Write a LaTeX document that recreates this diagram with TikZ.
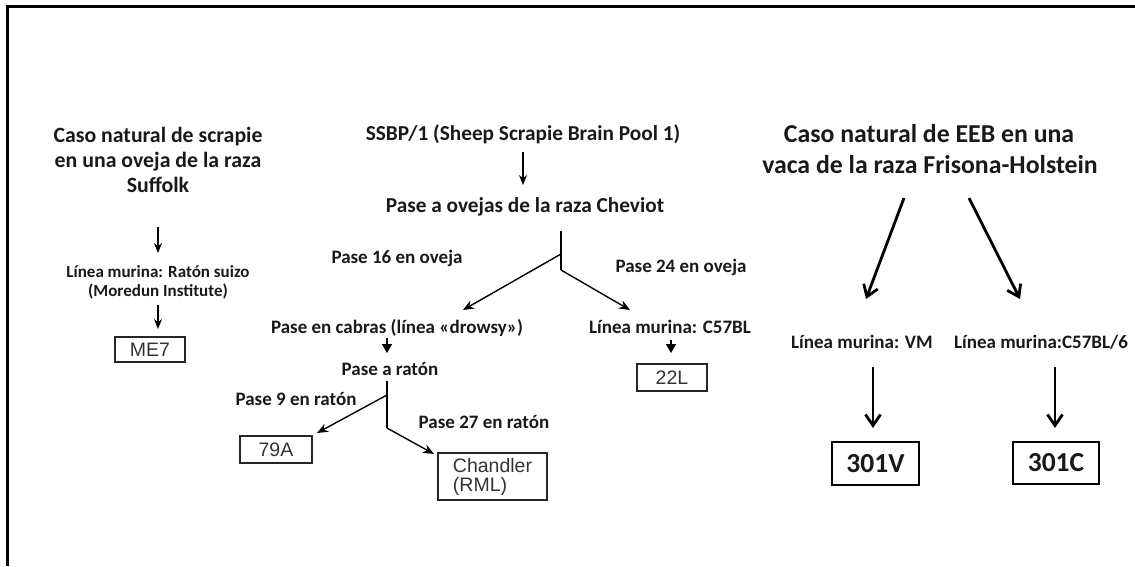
\documentclass[tikz,border=0pt]{standalone}
\usepackage{fontspec}
\setmainfont{Carlito}
\newfontfamily\arialf{Liberation Sans}
\usetikzlibrary{arrows.meta}
\begin{document}
\begin{tikzpicture}[x=1pt,y=-1pt,
  txt/.style={inner sep=0pt,anchor=base,text=black!90},
  big/.style={txt,font=\bfseries\fontsize{21.3}{24}\selectfont},
  huge/.style={txt,font=\bfseries\fontsize{25.8}{30}\selectfont},
  mid/.style={txt,font=\bfseries\fontsize{19}{23}\selectfont},
  small/.style={txt,font=\bfseries\fontsize{17}{20}\selectfont},
  abox/.style={draw=black!85,line width=1.4pt,inner sep=0pt,text=black!80,
    font=\arialf\fontsize{19.5}{21}\selectfont},
  cbox/.style={draw=black,line width=2pt,inner sep=0pt,text=black!90,
    font=\bfseries\fontsize{27.5}{30}\selectfont},
  thinarr/.style={line width=1.6pt,-{Stealth[length=10pt,width=8pt]}},
  line/.style={line width=1.4pt},
  brarr/.style={line width=1.4pt,-{Stealth[length=11pt,width=9pt]}},
  tri/.style={line width=1.4pt,-{Triangle[length=9pt,width=10pt]}},
  fatarr/.style={line width=2.8pt,-{Straight Barb[length=11pt,width=15pt,line width=2.8pt]}}
]
\useasboundingbox (0,0) rectangle (1135,566);
\draw[line width=3pt] (7,566) -- (7,6) -- (1135,6);

% ---------- left column ----------
\node[big,font=\bfseries\fontsize{21.8}{24}\selectfont] (sc1) at (158,142) {Caso natural de scrapie};
\node[big,font=\bfseries\fontsize{21.8}{24}\selectfont] (sc2) at (158,167) {en una oveja de la raza};
\node[big,font=\bfseries\fontsize{21.8}{24}\selectfont] (sc3) at (158,192) {Suffolk};
\node[small] (rs1) at (158,277) {Línea murina: Ratón suizo};
\node[small] (rs2) at (158,296) {(Moredun Institute)};
\node[abox,minimum width=70pt,minimum height=25pt] (me7) at (150,349.5) {ME7};
\coordinate (a1s) at (158,227); \coordinate (a1e) at (158,253);
\coordinate (a2s) at (158,305); \coordinate (a2e) at (158,329);
\draw[thinarr] (a1s) -- (a1e);
\draw[thinarr] (a2s) -- (a2e);

% ---------- middle column ----------
\node[big] (ssbp) at (523,140) {SSBP/1 (Sheep Scrapie Brain Pool 1)};
\node[big] (chev) at (525,212) {Pase a ovejas de la raza Cheviot};
\node[mid] (p16) at (397,263) {Pase 16 en oveja};
\node[mid] (p24) at (681,272) {Pase 24 en oveja};
\node[mid] (cab) at (397,333) {Pase en cabras (línea «drowsy»)};
\node[mid] (c57) at (670,333) {Línea murina: C57BL};
\node[mid] (rat) at (390,375) {Pase a ratón};
\node[mid] (p9) at (296,405) {Pase 9 en ratón};
\node[mid] (p27) at (484,428) {Pase 27 en ratón};
\node[abox,minimum width=70pt,minimum height=27pt] (l22) at (672,377.5) {22L};
\node[abox,minimum width=72pt,minimum height=27pt] (a79) at (276,449.5) {79A};
\node[abox,minimum width=109pt,minimum height=47pt,align=left,
  font=\arialf\fontsize{19.5}{19}\selectfont] (chd) at (492.5,476.5) {Chandler\\(RML)};

\coordinate (s1s) at (523,152); \coordinate (s1e) at (523,185);
\draw[thinarr] (s1s) -- (s1e);
\coordinate (v1t) at (561,231); \coordinate (v1m) at (561,254); \coordinate (v1b) at (561,270);
\coordinate (b1l) at (463,310); \coordinate (b1r) at (630,310);
\draw[line] (v1t) -- (v1b);
\draw[brarr] (v1m) -- (b1l);
\draw[brarr] (v1b) -- (b1r);
\coordinate (c1s) at (387,338); \coordinate (c1e) at (387,353);
\draw[tri] (c1s) -- (c1e);
\coordinate (c2s) at (671,340); \coordinate (c2e) at (671,353);
\draw[tri] (c2s) -- (c2e);
\coordinate (v2t) at (387,381); \coordinate (v2m) at (387,395); \coordinate (v2b) at (387,428);
\coordinate (b2l) at (317,433); \coordinate (b2r) at (434,454);
\draw[line] (v2t) -- (v2b);
\draw[brarr] (v2m) -- (b2l);
\draw[brarr] (v2b) -- (b2r);

% ---------- right column ----------
\node[huge] (eb1) at (929,142) {Caso natural de EEB en una};
\node[huge] (eb2) at (930,173) {vaca de la raza Frisona-Holstein};
\node[mid] (vm) at (862,348) {Línea murina: VM};
\node[mid] (c576) at (1041,348) {Línea murina:C57BL/6};
\node[cbox,minimum width=87pt,minimum height=43pt] (v301) at (875.5,463.5) {301V};
\node[cbox,minimum width=86pt,minimum height=42pt] (c301) at (1056,463) {301C};
\coordinate (r1s) at (904,198); \coordinate (r1e) at (866,299);
\coordinate (r2s) at (969,198); \coordinate (r2e) at (1020,299);
\draw[fatarr] (r1s) -- (r1e);
\draw[fatarr] (r2s) -- (r2e);
\coordinate (r3s) at (873,367); \coordinate (r3e) at (873,428);
\coordinate (r4s) at (1055,367); \coordinate (r4e) at (1055,428);
\draw[fatarr] (r3s) -- (r3e);
\draw[fatarr] (r4s) -- (r4e);
\end{tikzpicture}
\end{document}
